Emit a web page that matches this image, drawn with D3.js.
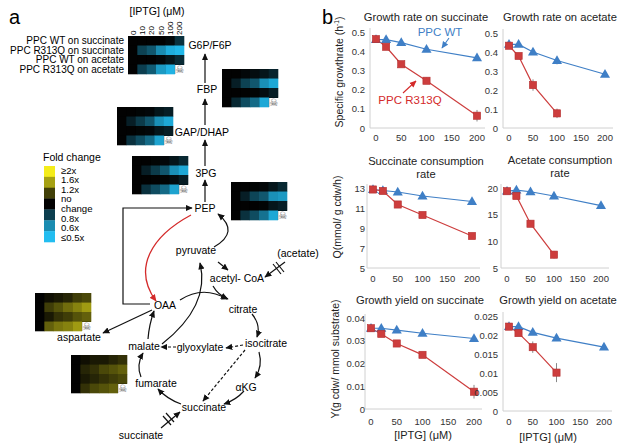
<!DOCTYPE html>
<html><head><meta charset="utf-8">
<script src="https://cdn.jsdelivr.net/npm/d3@7"></script>
<style>
html,body{margin:0;padding:0;background:#fff;}
svg{display:block;font-family:"Liberation Sans",Arial,Helvetica,sans-serif;}
</style></head>
<body>
<svg id="chart" width="622" height="447"></svg>
<script>
// ---------------- DATA ----------------
const iptgCols = ["0","10","20","50","100","200"];
const rowLabels = ["PPC WT on succinate","PPC R313Q on succinate","PPC WT on acetate","PPC R313Q on acetate"];
const legendFC = [2,1.6,1.2,1,0.8,0.6,0.5];
const legendLabels = ["\u22652x","1.6x","1.2x","no","change","0.8x","0.6x","\u22640.5x"];

const hmG6P = [[1,1,1,1,0.97,0.84],[1,0.79,0.73,0.6,0.53,0.51],[1,1,1,0.98,0.93,0.86],[1,0.8,0.72,0.57,0.52,null]];
const hmFBP = [[1,1,0.98,0.96,0.93,0.88],[1,0.9,0.79,0.73,0.59,0.54],[1,1,1,0.99,0.96,0.9],[1,0.87,0.76,0.68,0.54,null]];
const hmGAP = [[1,1,0.99,0.98,0.93,0.9],[1,0.9,0.81,0.73,0.59,0.54],[1,1,0.99,0.98,0.93,0.9],[1,0.84,0.76,0.68,0.55,null]];
const hm3PG = [[1,1,0.99,0.98,0.93,0.87],[1,0.9,0.81,0.73,0.59,0.54],[1,1,1,0.99,0.96,0.9],[1,0.84,0.76,0.68,0.55,null]];
const hmPEP = [[1,1,0.99,0.98,0.93,0.87],[1,0.9,0.78,0.73,0.59,0.57],[1,1,1,0.99,0.93,0.9],[1,0.84,0.76,0.66,0.54,null]];
const hmAsp = [[1,1.04,1.07,1.11,1.19,1.23],[1,1.19,1.27,1.37,1.46,1.57],[1,1.07,1.15,1.19,1.27,1.32],[1,1.32,1.41,1.46,1.57,null]];
const hmMal = [[1,1.04,1.07,1.07,1.11,1.15],[1,1.11,1.15,1.23,1.27,1.32],[1,1.07,1.11,1.15,1.19,1.23],[1,1.15,1.23,1.27,1.32,null]];

const iptg = [0,20,50,100,200];
const iptgR = [0,20,50,100];
const xTicks = [0,50,100,150,200];

const growthSuccWT = [0.46,0.46,0.445,0.41,0.365];
const growthSuccWTErr = [0,0.005,0.008,0.008,0.01];
const growthSuccR = [0.463,0.423,0.332,0.246,0.064];
const growthSuccRErr = [0,0.008,0.01,0.016,0.03];
const growthAcWT = [0.44,0.44,0.40,0.355,0.283];
const growthAcWTErr = [0,0.01,0.01,0.02,0.01];
const growthAcR = [0.433,0.379,0.226,0.077];
const growthAcRErr = [0,0.01,0.03,0.025];

const consSuccWT = [12.85,12.75,12.6,12.2,11.65];
const consSuccWTErr = [0,0.1,0.3,0.15,0.2];
const consSuccR = [12.85,12.7,11.35,10.3,8.2];
const consSuccRErr = [0,0.15,0.3,0.2,0.3];
const consAcWT = [19.4,19.6,19.3,18.5,16.7];
const consAcWTErr = [0,0.3,0.3,0.3,0.3];
const consAcR = [19.4,18.5,13.3,7.5];
const consAcRErr = [0,0.4,0.6,0.7];

const yieldSuccWT = [0.0355,0.0355,0.0347,0.0333,0.031];
const yieldSuccWTErr = [0,0.0005,0.0005,0.0005,0.0005];
const yieldSuccR = [0.0355,0.033,0.0288,0.0238,0.0076];
const yieldSuccRErr = [0,0.001,0.001,0.0008,0.003];
const yieldAcWT = [0.0222,0.0222,0.0207,0.0192,0.0168];
const yieldAcWTErr = [0,0.0004,0.0004,0.0004,0.0003];
const yieldAcR = [0.0222,0.0205,0.0168,0.0101];
const yieldAcRErr = [0,0.0006,0.0015,0.0025];

const ticksGrowth = [0,0.1,0.2,0.3,0.4,0.5];
const ticksConsSucc = [5,7,9,11,13];
const ticksConsAc = [5,10,15,20];
const ticksYieldSucc = [0,0.01,0.02,0.03,0.04];
const ticksYieldAc = [0,0.005,0.01,0.015,0.02,0.025];

// ---------------- SETUP ----------------
const svg = d3.select("#chart");
const defs = svg.append("defs");
function marker(id, color){
  defs.append("marker").attr("id",id).attr("viewBox","0 0 10 10")
    .attr("refX",9).attr("refY",5).attr("markerWidth",7).attr("markerHeight",7)
    .attr("markerUnits","userSpaceOnUse").attr("orient","auto")
    .append("path").attr("d","M0,0.5 L10,5 L0,9.5 z").attr("fill",color);
}
marker("ah","#111"); marker("ahr","#d42a2a"); marker("ahb","#3f7fc6");

const blueMax = "#22bdf0", yellowMax = "#f4ec1a";
function fcColor(fc){
  const v = Math.max(-1, Math.min(1, Math.log2(fc)));
  return v < 0 ? d3.interpolateRgb("#020202", blueMax)(-v) : d3.interpolateRgb("#020202", yellowMax)(v);
}

// ---------------- PANEL A ----------------
svg.append("text").attr("x",9).attr("y",24).attr("font-size",20).text("a");
svg.append("text").attr("x",322).attr("y",24).attr("font-size",20).text("b");

function heatmap(data, x0, y0){
  const W = 56, H = 38;
  const xs = d3.scaleBand().domain(d3.range(6)).range([x0, x0+W]);
  const ys = d3.scaleBand().domain(d3.range(4)).range([y0, y0+H]);
  const g = svg.append("g");
  g.append("rect").attr("x",x0).attr("y",y0).attr("width",W).attr("height",H).attr("fill","#020202");
  data.forEach((row,r)=>row.forEach((v,c)=>{
    if (v === null){
      g.append("rect").attr("x",xs(c)+0.5).attr("y",ys(r)+0.5).attr("width",xs.bandwidth()).attr("height",ys.bandwidth())
        .attr("fill","#fff");
      g.append("text").attr("x",xs(c)+xs.bandwidth()/2+0.5).attr("y",ys(r)+ys.bandwidth()/2+0.5)
        .attr("text-anchor","middle").attr("dominant-baseline","central").attr("font-size",10)
        .attr("font-family","DejaVu Sans").attr("fill","#555").text("\u2620");
    } else {
      g.append("rect").attr("x",xs(c)).attr("y",ys(r)).attr("width",xs.bandwidth()+0.3).attr("height",ys.bandwidth()+0.3)
        .attr("fill",fcColor(v));
    }
  }));
  return {xs, ys};
}
const h1 = heatmap(hmG6P,128,36);
heatmap(hmFBP,222,69);
heatmap(hmGAP,117,107);
heatmap(hm3PG,132,156);
heatmap(hmPEP,231,182);
heatmap(hmAsp,35,293);
heatmap(hmMal,71,355);

// heatmap labels
svg.append("text").attr("x",157).attr("y",11).attr("text-anchor","middle").attr("dominant-baseline","central").attr("font-size",10.5).text("[IPTG] (\u03bcM)");
iptgCols.forEach((t,i)=>{
  const cx = h1.xs(i)+h1.xs.bandwidth()/2+3;
  svg.append("text").attr("transform",`translate(${cx},35) rotate(-90)`).attr("font-size",8).text(t);
});
rowLabels.forEach((t,i)=>{
  svg.append("text").attr("x",124).attr("y",h1.ys(i)+h1.ys.bandwidth()/2).attr("dominant-baseline","central")
    .attr("text-anchor","end").attr("font-size",10).text(t);
});

// legend
svg.append("text").attr("x",43).attr("y",157).attr("dominant-baseline","central").attr("font-size",10.5).text("Fold change");
const legY = d3.scaleBand().domain(d3.range(legendFC.length)).range([166,242]);
legendFC.forEach((fc,i)=>{
  svg.append("rect").attr("x",44).attr("y",legY(i)).attr("width",11).attr("height",legY.bandwidth()+0.3).attr("fill",fcColor(fc));
});
legendLabels.forEach((t,i)=>{
  svg.append("text").attr("x",61).attr("y",170+i*9.6).attr("dominant-baseline","central").attr("font-size",9.6).text(t);
});

// metabolite labels
const mets = [
  ["G6P/F6P",210,45],["FBP",207,89],["GAP/DHAP",202,132],["3PG",206,173],["PEP",205,208],
  ["pyruvate",196,250],["acetyl- CoA",237,278],["(acetate)",298,253],["OAA",165,305],["citrate",243,309],
  ["isocitrate",266,343],["glyoxylate",200,347],["malate",144,346],["aspartate",79,337],["fumarate",156,383],
  ["\u03b1KG",246,387],["succinate",204,407],["succinate",141,435]
];
mets.forEach(([t,x,y])=>{
  svg.append("text").attr("x",x).attr("y",y).attr("text-anchor","middle").attr("dominant-baseline","central")
    .attr("font-size",10.5).text(t);
});

// arrows
function arrow(d, opts={}){
  svg.append("path").attr("d",d).attr("fill","none")
    .attr("stroke",opts.color||"#111").attr("stroke-width",opts.w||1.2)
    .attr("stroke-dasharray",opts.dash||null)
    .attr("marker-end",opts.noHead?null:`url(#${opts.marker||"ah"})`);
}
arrow("M205,83 L205,54");
arrow("M205,125 L205,99");
arrow("M205,166 L205,140");
arrow("M205,202 L205,180");
arrow("M150,304 L123,304 L123,208 L192,208");
arrow("M191,215 C152,236 132,268 156,301",{color:"#d42a2a",marker:"ahr",w:1.3});
arrow("M214,247 Q240,232 218,214");
arrow("M218,262 L228,270");
arrow("M285,262 L265,277");
arrow("M273,264 L281,274",{noHead:true});
arrow("M276,262 L284,272",{noHead:true});
arrow("M162,344 C190,322 208,296 200,263");
arrow("M213,286 Q218,295 228,299");
arrow("M180,300 Q203,285 227,299");
arrow("M252,314 Q261,325 257,337");
arrow("M243,345 L226,348",{dash:"3,2"});
arrow("M176,347 L161,347",{dash:"3,2"});
arrow("M245,350 L203,401",{dash:"3,2"});
arrow("M259,352 Q263,366 255,378");
arrow("M244,391 Q236,400 224,404");
arrow("M181,404 Q167,399 158,389");
arrow("M141,377 Q136,365 143,353");
arrow("M148,339 Q149,325 154,311");
arrow("M152,310 L103,333");
arrow("M161,428 L180,412");
arrow("M163,416 L171,425",{noHead:true});
arrow("M166,413 L174,422",{noHead:true});

// ---------------- PANEL B ----------------
const plots = [
  {title:["Growth rate on succinate"], tx:426, ty:17, xr:[376,477], yr:[128,32], yd:[0,0.5], yt:ticksGrowth,
   wt:growthSuccWT, wtE:growthSuccWTErr, r:growthSuccR, rE:growthSuccRErr, xr2:iptg, tickR:365, xLabY:137},
  {title:["Growth rate on acetate"], tx:560, ty:17, xr:[509,605], yr:[128,33], yd:[0,0.5], yt:ticksGrowth,
   wt:growthAcWT, wtE:growthAcWTErr, r:growthAcR, rE:growthAcRErr, xr2:iptgR, tickR:498, xLabY:137},
  {title:["Succinate consumption","rate"], tx:426, ty:161, xr:[373,472], yr:[268,188], yd:[5,13], yt:ticksConsSucc,
   wt:consSuccWT, wtE:consSuccWTErr, r:consSuccR, rE:consSuccRErr, xr2:iptg, tickR:365, xLabY:278},
  {title:["Acetate consumption","rate"], tx:560, ty:160, xr:[507,601], yr:[268,188], yd:[5,20], yt:ticksConsAc,
   wt:consAcWT, wtE:consAcWTErr, r:consAcR, rE:consAcRErr, xr2:iptgR, tickR:498, xLabY:278},
  {title:["Growth yield on succinate"], tx:420, ty:300, xr:[371,474], yr:[409,318], yd:[0,0.04], yt:ticksYieldSucc,
   wt:yieldSuccWT, wtE:yieldSuccWTErr, r:yieldSuccR, rE:yieldSuccRErr, xr2:iptg, tickR:365, xLabY:421},
  {title:["Growth yield on acetate"], tx:558, ty:300, xr:[509,604], yr:[411,316], yd:[0,0.025], yt:ticksYieldAc,
   wt:yieldAcWT, wtE:yieldAcWTErr, r:yieldAcR, rE:yieldAcRErr, xr2:iptgR, tickR:498, xLabY:421}
];
const blue = "#3f7fc6", red = "#cd3d3d";
plots.forEach(p=>{
  const x = d3.scaleLinear().domain([0,200]).range(p.xr);
  const y = d3.scaleLinear().domain(p.yd).range(p.yr);
  const g = svg.append("g");
  p.title.forEach((t,i)=>{
    g.append("text").attr("x",p.tx).attr("y",p.ty+i*12.5).attr("text-anchor","middle").attr("dominant-baseline","central")
      .attr("font-size",11.2).attr("fill","#222").text(t);
  });
  const ax0 = p.xr[0]-6, ax1 = p.xr[1]+8;
  g.append("line").attr("x1",ax0).attr("x2",ax0).attr("y1",p.yr[1]-4).attr("y2",p.yr[0]).attr("stroke","#d0d0d0").attr("stroke-width",1);
  g.append("line").attr("x1",ax0).attr("x2",ax1).attr("y1",p.yr[0]).attr("y2",p.yr[0]).attr("stroke","#d0d0d0").attr("stroke-width",1);
  p.yt.forEach(t=>{
    g.append("text").attr("x",p.tickR).attr("y",y(t)).attr("text-anchor","end").attr("dominant-baseline","central")
      .attr("font-size",9.5).attr("fill","#333").text(String(t));
  });
  xTicks.forEach(t=>{
    g.append("text").attr("x",x(t)).attr("y",p.xLabY).attr("text-anchor","middle").attr("dominant-baseline","central")
      .attr("font-size",9.5).attr("fill","#333").text(String(t));
  });
  const line = d3.line().x(d=>x(d[0])).y(d=>y(d[1]));
  const wtPts = iptg.map((v,i)=>[v,p.wt[i],p.wtE[i]]);
  const rPts = p.xr2.map((v,i)=>[v,p.r[i],p.rE[i]]);
  g.append("path").attr("d",line(wtPts)).attr("fill","none").attr("stroke",blue).attr("stroke-width",1.2);
  g.append("path").attr("d",line(rPts)).attr("fill","none").attr("stroke",red).attr("stroke-width",1.2);
  [...wtPts,...rPts].forEach(d=>{
    if (d[2]>0) g.append("line").attr("x1",x(d[0])).attr("x2",x(d[0])).attr("y1",y(d[1]-d[2])).attr("y2",y(d[1]+d[2]))
      .attr("stroke","#888").attr("stroke-width",1);
  });
  const tri = d3.symbol().type(d3.symbolTriangle).size(44);
  wtPts.forEach(d=>{
    g.append("path").attr("d",tri()).attr("transform",`translate(${x(d[0])},${y(d[1])+0.5})`).attr("fill",blue);
  });
  rPts.forEach(d=>{
    g.append("rect").attr("x",x(d[0])-3.6).attr("y",y(d[1])-3.6).attr("width",7.2).attr("height",7.2)
      .attr("fill",red).attr("stroke","#b53030").attr("stroke-width",0.6);
  });
});

// axis titles
function vlabel(x,yc,parts){
  const t = svg.append("text").attr("transform",`translate(${x},${yc}) rotate(-90)`).attr("text-anchor","middle")
    .attr("font-size",10.5).attr("fill","#222");
  parts.forEach(pt=>{
    const s = t.append("tspan").text(pt.t);
    if (pt.sup) s.attr("font-size",6.5).attr("dy",-4);
    if (pt.down) s.attr("dy",4);
  });
}
vlabel(343,72,[{t:"Specific growthrate (h"},{t:"-1",sup:true},{t:")",down:true}]);
vlabel(341,217,[{t:"Q(mmol/ g cdw/h)"}]);
vlabel(339,359,[{t:"Y(g cdw/ mmol substrate)"}]);
svg.append("text").attr("x",423).attr("y",435).attr("text-anchor","middle").attr("dominant-baseline","central")
  .attr("font-size",11).attr("fill","#222").text("[IPTG] (\u03bcM)");
svg.append("text").attr("x",548).attr("y",437).attr("text-anchor","middle").attr("dominant-baseline","central")
  .attr("font-size",11).attr("fill","#222").text("[IPTG]  (\u03bcM)");

// annotations
svg.append("text").attr("x",440).attr("y",32).attr("text-anchor","middle").attr("dominant-baseline","central")
  .attr("font-size",11.5).attr("fill",blue).text("PPC WT");
svg.append("path").attr("d","M449,38 L442,48").attr("stroke",blue).attr("stroke-width",1.1).attr("marker-end","url(#ahb)");
svg.append("text").attr("x",410).attr("y",100).attr("text-anchor","middle").attr("dominant-baseline","central")
  .attr("font-size",11.5).attr("fill","#d42a2a").text("PPC R313Q");
svg.append("path").attr("d","M403,93 L416,81").attr("stroke","#d42a2a").attr("stroke-width",1.1).attr("marker-end","url(#ahr)");
</script>
</body></html>
